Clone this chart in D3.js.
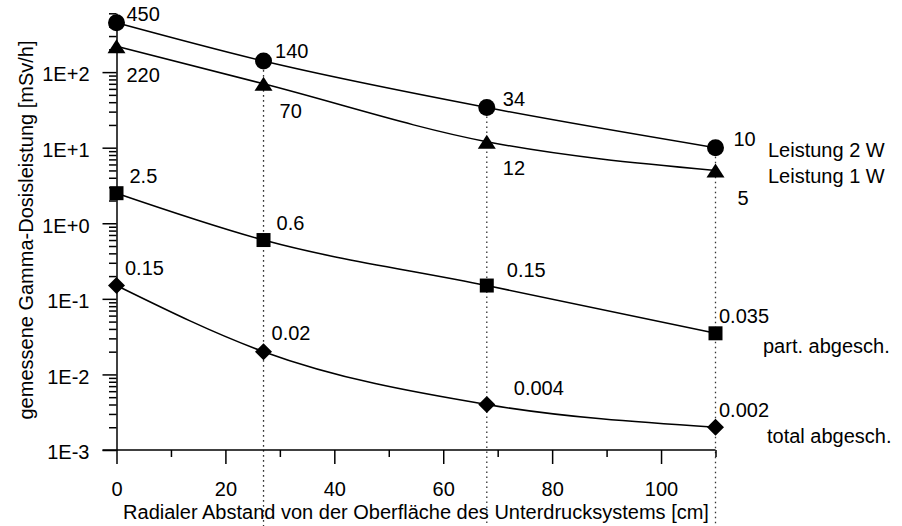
<!DOCTYPE html>
<html>
<head>
<meta charset="utf-8">
<script src="https://cdn.jsdelivr.net/npm/d3@7"></script>
<style>
  html, body { margin: 0; padding: 0; background: #fff; }
  svg { display: block; font-family: "Liberation Sans", Arial, sans-serif; }
</style>
</head>
<body>
<svg id="chart" width="902" height="526"></svg>
<script>
// Measured gamma dose rate versus radial distance from the vacuum system surface
const distances    = [0, 27, 68, 110];
const leistung2W   = [450, 140, 34, 10];
const leistung1W   = [220, 70, 12, 5];
const partAbgesch  = [2.5, 0.6, 0.15, 0.035];
const totalAbgesch = [0.15, 0.02, 0.004, 0.002];
const seriesNames  = ["Leistung 2 W", "Leistung 1 W", "part. abgesch.", "total abgesch."];

const yMajorTicks  = [1e-3, 1e-2, 1e-1, 1, 10, 100];
const yTickLabels  = ["1E-3", "1E-2", "1E-1", "1E+0", "1E+1", "1E+2"];
const xMajorTicks  = [0, 20, 40, 60, 80, 100];
const xMinorTicks  = [10, 30, 50, 70, 90, 110];
const xTitle = "Radialer Abstand von der Oberfläche des Unterdrucksystems [cm]";
const yTitle = "gemessene Gamma-Dosisleistung [mSv/h]";

const svg = d3.select("#chart");
const FONT = 20;

const x = d3.scaleLinear().domain([0, 110]).range([116.5, 715.5]);
const y = d3.scaleLog().domain([1e-3, 600]).range([450, 13.3]);

// minor log ticks 2..9 per decade
const yMinorTicks = [];
for (let e = -3; e <= 2; e++) {
  for (let k = 2; k <= 9; k++) {
    const v = k * Math.pow(10, e);
    if (v <= 600.0001) yMinorTicks.push(v);
  }
}

// dotted guides at the measuring distances
const guideG = svg.append("g");
distances.slice(1).forEach(d => {
  guideG.append("line")
    .attr("x1", x(d)).attr("x2", x(d))
    .attr("y1", y(leistung2W[distances.indexOf(d)]) + 9)
    .attr("y2", 526)
    .attr("stroke", "#333")
    .attr("stroke-width", 1.3)
    .attr("stroke-dasharray", "1.6,3.4");
});

// axes
function styleAxis(g) {
  g.selectAll("path, line").attr("stroke", "#000").attr("stroke-width", 1.5);
  g.selectAll("text").attr("fill", "#000").attr("font-size", FONT)
    .attr("font-family", "'Liberation Sans', Arial, sans-serif");
}

svg.append("g")
  .attr("transform", `translate(${x(0)},0)`)
  .call(d3.axisLeft(y).tickValues(yMinorTicks).tickSize(7.5).tickSizeOuter(0).tickFormat(""))
  .call(styleAxis);

svg.append("g")
  .attr("transform", `translate(${x(0)},0)`)
  .call(d3.axisLeft(y).tickValues(yMajorTicks).tickSize(14).tickSizeOuter(0).tickPadding(13)
    .tickFormat((d, i) => yTickLabels[i]))
  .call(g => g.select(".domain").remove())
  .call(styleAxis)
  .call(g => g.selectAll("text").attr("dy", "0.44em"));

svg.append("g")
  .attr("transform", `translate(0,${y(1e-3)})`)
  .call(d3.axisBottom(x).tickValues(xMinorTicks).tickSize(7).tickSizeOuter(0).tickFormat(""))
  .call(g => g.select(".domain").attr("d", `M${x(0) - 14},0H${x(110)}`))
  .call(styleAxis);

svg.append("g")
  .attr("transform", `translate(0,${y(1e-3)})`)
  .call(d3.axisBottom(x).tickValues(xMajorTicks).tickSize(14).tickSizeOuter(0).tickPadding(18))
  .call(g => g.select(".domain").remove())
  .call(styleAxis);

// axis titles
svg.append("text")
  .attr("x", 416).attr("y", 519)
  .attr("text-anchor", "middle")
  .attr("font-size", FONT)
  .text(xTitle);

svg.append("text")
  .attr("transform", "translate(33,230) rotate(-90)")
  .attr("text-anchor", "middle")
  .attr("font-size", FONT)
  .text(yTitle);

// series
const markers = {
  circle:   "M8.5,0A8.5,8.5,0,1,1,-8.5,0A8.5,8.5,0,1,1,8.5,0Z",
  triangle: "M0,-7L9,7L-9,7Z",
  square:   "M-7,-7H7V7H-7Z",
  diamond:  "M0,-8.5L8.5,0L0,8.5L-8.5,0Z"
};

const series = [
  { name: seriesNames[0], values: leistung2W, marker: "circle",
    labelShift: [[10, -2], [11.5, -3], [16, -2], [18, -2]], nameShift: [52.5, 9] },
  { name: seriesNames[1], values: leistung1W, marker: "triangle",
    labelShift: [[10, 36], [16, 34], [16, 33], [22, 35]], nameShift: [52.5, 12.6] },
  { name: seriesNames[2], values: partAbgesch, marker: "square",
    labelShift: [[13, -10], [13, -10], [20, -8.5], [3.5, -10]], nameShift: [47.5, 19.7] },
  { name: seriesNames[3], values: totalAbgesch, marker: "diamond",
    labelShift: [[8.5, -10.5], [8, -11.5], [27, -9.5], [3.5, -10.5]], nameShift: [51.5, 15.8] }
];

const line = d3.line()
  .x(d => x(d[0]))
  .y(d => y(d[1]))
  .curve(d3.curveMonotoneX);

series.forEach(s => {
  const pts = distances.map((d, i) => [d, s.values[i]]);
  const g = svg.append("g");

  g.append("path")
    .attr("d", line(pts))
    .attr("fill", "none")
    .attr("stroke", "#000")
    .attr("stroke-width", 1.5);

  g.selectAll("path.mark")
    .data(pts)
    .join("path")
    .attr("class", "mark")
    .attr("d", markers[s.marker])
    .attr("transform", d => `translate(${x(d[0])},${y(d[1])})`)
    .attr("fill", "#000");

  g.selectAll("text.val")
    .data(pts)
    .join("text")
    .attr("class", "val")
    .attr("x", (d, i) => x(d[0]) + s.labelShift[i][0])
    .attr("y", (d, i) => y(d[1]) + s.labelShift[i][1])
    .attr("font-size", FONT)
    .text(d => String(d[1]));

  const last = pts[pts.length - 1];
  g.append("text")
    .attr("x", x(last[0]) + s.nameShift[0])
    .attr("y", y(last[1]) + s.nameShift[1])
    .attr("font-size", FONT)
    .text(s.name);
});
</script>
</body>
</html>
